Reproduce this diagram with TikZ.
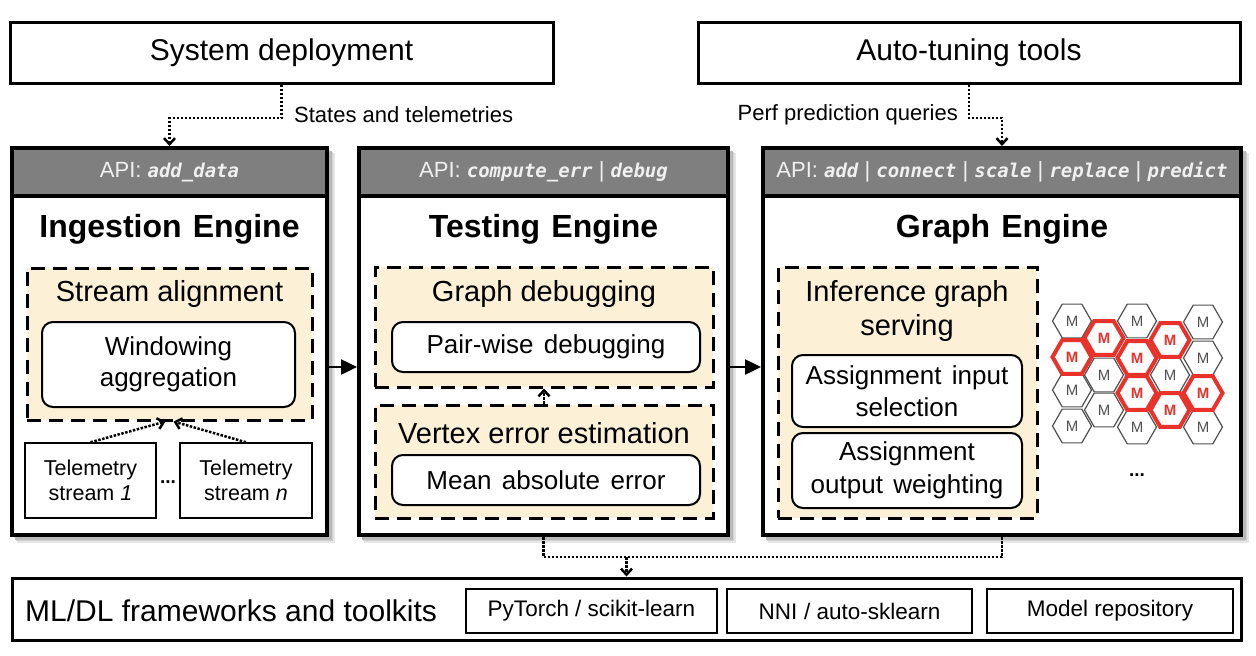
\documentclass[tikz,border=0pt]{standalone}
\usepackage{fontspec}
\setmainfont{Liberation Sans}
\newfontfamily\codefont[BoldItalicFont={DejaVu Sans Mono Bold Oblique}]{DejaVu Sans Mono}
\usetikzlibrary{arrows.meta,shapes.geometric}
\definecolor{apigray}{HTML}{7F7F7F}
\definecolor{beige}{HTML}{FCF1D6}
\definecolor{hexred}{HTML}{E8322A}
\definecolor{hexgray}{HTML}{505050}
\definecolor{apitext}{HTML}{F0F0F0}
\newcommand\fs[2]{\fontsize{#1}{#2}\selectfont}
\newcommand\code[1]{{\codefont\bfseries\itshape\fontsize{19}{22}\selectfont #1}}
\newcommand\apisep{\ |\ }
\newcommand\mkbox[7]{\node[#2, minimum width={#5-#3}, minimum height={#6-#4}, inner sep=0pt] (#1) at ({(#3+#5)/2},{(#4+#6)/2}) {#7};}
\newcommand\softshadow[4]{%
  \fill[black!10] ({#1+5},{#2+5}) rectangle ({#3+8},{#4+8});
  \fill[black!18] ({#1+4},{#2+4}) rectangle ({#3+6},{#4+6});
  \fill[black!28] ({#1+3},{#2+3}) rectangle ({#3+4.5},{#4+4.5});}
\tikzset{
  topbox/.style={draw, line width=3pt, fill=white},
  engine/.style={draw, line width=4pt, fill=white},
  apibar/.style={draw, line width=4pt, fill=apigray, text=apitext, font=\fs{22}{26}},
  dbox/.style={draw, line width=3pt, dash pattern=on 14pt off 8pt, fill=beige},
  rbox/.style={draw, line width=2pt, rounded corners=11pt, fill=white, align=center},
  tbox/.style={draw, line width=1.5pt, fill=white, align=center},
  title/.style={font=\bfseries\fs{32}{38}},
  subtitle/.style={font=\fs{29}{34}, align=center},
  lbl/.style={font=\fs{22}{26}},
  dotsym/.style={font=\bfseries\fs{19}{20}},
  hexg/.style={regular polygon, regular polygon sides=6, minimum size=39pt, inner sep=0pt, draw=hexgray, line width=1.2pt, fill=white, text=hexgray, font=\fs{15}{18}},
  hexr/.style={regular polygon, regular polygon sides=6, minimum size=39pt, inner sep=0pt, draw=hexred, line width=4pt, fill=white, text=hexred, font=\bfseries\fs{15}{18}},
  solidarrow/.style={line width=2.5pt, -{Triangle[length=16pt,width=15pt]}},
  dotline/.style={line width=2.5pt, dash pattern=on 2.5pt off 1.5pt},
  dotarrow/.style={dotline, -{Straight Barb[length=6pt,width=11pt]}}
}
\begin{document}
\begin{tikzpicture}[x=1pt,y=-1pt]
\useasboundingbox (0,0) rectangle (1256,656);
\fill[white] (0,0) rectangle (1256,656);

% top boxes
\mkbox{sysdep}{topbox,font=\fs{30}{36}}{10}{22}{553}{83}{System deployment}
\mkbox{autotune}{topbox,font=\fs{30}{36}}{698}{22}{1240}{83}{Auto-tuning tools}

% engines
\softshadow{12}{148}{327}{535}
\softshadow{359}{148}{728}{535}
\softshadow{763}{148}{1241}{535}
\mkbox{ing}{engine}{12}{148}{327}{535}{}
\mkbox{ingapi}{apibar}{12}{148}{327}{196}{API: \code{add\_data}}
\mkbox{test}{engine}{359}{148}{728}{535}{}
\mkbox{testapi}{apibar}{359}{148}{728}{196}{API: \code{compute\_err}\apisep\code{debug}}
\mkbox{graph}{engine}{763}{148}{1241}{535}{}
\mkbox{graphapi}{apibar}{763}{148}{1241}{196}{API: \code{add}\apisep\code{connect}\apisep\code{scale}\apisep\code{replace}\apisep\code{predict}}

\node[title] (ingt) at (169.5,229) {Ingestion\hspace{0.35em}Engine};
\node[title] (testt) at (543.5,229) {Testing\hspace{0.35em}Engine};
\node[title] (grapht) at (1002,229) {Graph\hspace{0.35em}Engine};

% ingestion interior
\mkbox{stream}{dbox}{27}{268}{312}{420}{}
\node[subtitle] (streamt) at (169.5,294) {Stream alignment};
\mkbox{wagg}{rbox,font=\fs{26}{31}}{42}{322}{295}{407}{Windowing\\aggregation}
\mkbox{tel1}{tbox,font=\fs{21.5}{25}}{25}{443}{156}{518}{Telemetry\\stream \textit{1}}
\mkbox{teln}{tbox,font=\fs{21.5}{25}}{180}{443}{312}{518}{Telemetry\\stream \textit{n}}
\node[dotsym] (teldots) at (168,482) {...};

% testing interior
\mkbox{gdbg}{dbox}{375}{267}{713}{387}{}
\node[subtitle] (gdbgt) at (544,294) {Graph debugging};
\mkbox{pair}{rbox,font=\fs{26}{31}}{392}{322}{700}{372}{Pair-wise\hspace{0.4em}debugging}
\mkbox{verr}{dbox}{375}{405}{713}{518}{}
\node[subtitle] (verrt) at (544,433) {Vertex error estimation};
\mkbox{mae}{rbox,font=\fs{26}{31}}{392}{455}{700}{505}{Mean\hspace{0.4em}absolute\hspace{0.4em}error}

% graph interior
\mkbox{infer}{dbox}{778}{267}{1037}{518}{}
\node[subtitle] (infert) at (907,311) {Inference graph\\serving};
\mkbox{ainp}{rbox,font=\fs{26}{32}}{792}{355}{1022}{427}{Assignment\hspace{0.4em}input\\selection}
\mkbox{aout}{rbox,font=\fs{26}{33}}{792}{433}{1022}{508}{Assignment\\output\hspace{0.4em}weighting}

% hex grid
\foreach \hx/\hy [count=\i] in {1072/321,1072/390,1072/426,1104/375,1104/410,1137/321,1137/427,1170/375,1203/322,1203/358,1203/427}
  \node[hexg] (hg\i) at (\hx,\hy) {M};
\foreach \hx/\hy [count=\i] in {1072/357,1104/338,1137/358,1170/340,1137/393,1170/410,1203/393}
  \node[hexr] (hr\i) at (\hx,\hy) {M};
\node[dotsym] (hexdots) at (1137,475) {...};

% bottom
\mkbox{bot}{topbox}{12}{578}{1241}{640}{}
\node[anchor=west, font=\fs{30}{36}, inner sep=0pt] (bott) at (25,611) {ML/DL frameworks and toolkits};
\mkbox{pyt}{tbox,font=\fs{22.5}{27}}{466}{589}{717}{633}{PyTorch / scikit-learn}
\mkbox{nni}{tbox,font=\fs{22.5}{27}}{727}{589}{972}{633}{NNI\hspace{0.3em}/ auto-sklearn}
\mkbox{repo}{tbox,font=\fs{22.5}{27}}{987}{589}{1233}{633}{Model repository}

% connectors
\coordinate (ay) at (0,367);
\draw[solidarrow] (ing.east |- ay) -- (test.west |- ay);
\draw[solidarrow] (test.east |- ay) -- (graph.west |- ay);

\coordinate (k1) at (230,118);
\draw[dotarrow] (sysdep.south) |- (k1) -| (ingapi.north);
\node[lbl, anchor=west, inner sep=0pt] (k1lbl) at (294,115) {States and telemetries};

\coordinate (k2) at (990,118);
\draw[dotarrow] (autotune.south) |- (k2) -| (graphapi.north);
\node[lbl, anchor=east, inner sep=0pt] (k2lbl) at (958,115) {Perf prediction queries};

\coordinate (mid) at (626.5,557);
\draw[dotline] (test.south) |- (mid) -| (graph.south);
\draw[dotarrow] (mid) -- (bot.north);

\draw[dotarrow] (tel1.north) -- ([xshift=-4pt]stream.south);
\draw[dotarrow] (teln.north) -- ([xshift=4pt]stream.south);
\draw[dotarrow] (verr.north) -- (gdbg.south);
\end{tikzpicture}
\end{document}
